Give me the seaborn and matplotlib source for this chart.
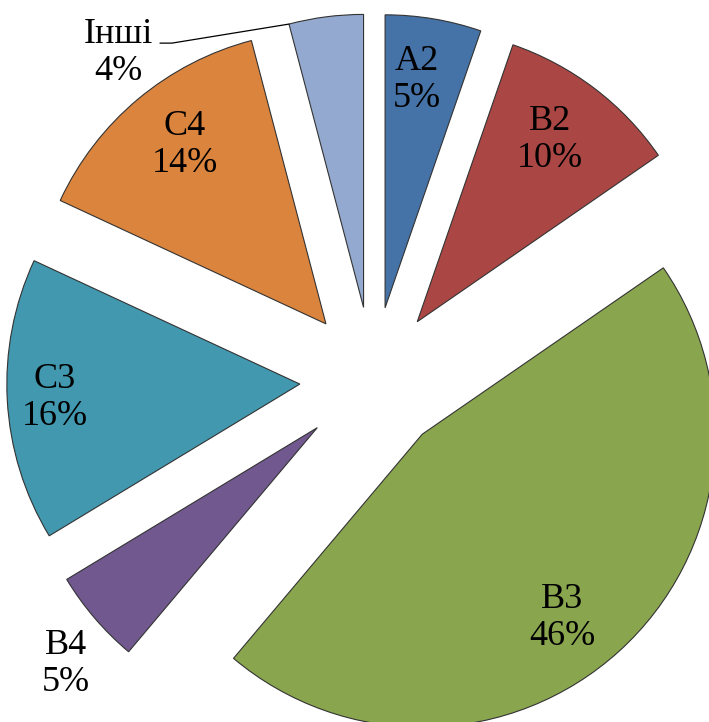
import numpy as np
import seaborn as sns
import matplotlib
matplotlib.use("Agg")
import matplotlib.pyplot as plt

# data (shares; labels show rounded values)
categories = ["A2", "B2", "B3", "B4", "C3", "C4", "Інші"]
shares = [5.3, 10.1, 45.8, 5.2, 15.6, 14.0, 4.1]
colors = ["#4572A7", "#AA4643", "#89A54E", "#71588F", "#4198AF", "#DB843D", "#93A9CF"]

# layout: label anchors in data coords (pie radius = 1)
label_pos = {
    "A2": (0.150, 1.024),
    "B2": (0.604, 0.819),
    "B3": (0.645, -0.812),
    "B4": (-1.048, -0.969),
    "C3": (-1.085, -0.061),
    "C4": (-0.642, 0.802),
    "Інші": (-0.870, 1.116),
}
leader_start = [(-0.727, 1.150), (-0.686, 1.150)]

sns.set_theme(style="white")
plt.rcParams["font.family"] = ["Liberation Serif", "DejaVu Serif"]

fig = plt.figure(figsize=(7.09, 7.22), dpi=100)
ax = fig.add_axes([0, 0, 1, 1])

wedges, _ = ax.pie(
    shares,
    colors=sns.color_palette(colors),
    startangle=90,
    counterclock=False,
    explode=[0.25] * len(shares),
    radius=1,
    wedgeprops=dict(edgecolor="#333333", linewidth=0.8),
)

for cat, val in zip(categories, shares):
    x, y = label_pos[cat]
    ax.text(x, y, f"{cat}\n{round(val)}%", ha="center", va="center",
            fontsize=26, color="black", linespacing=1.15)

# leader line for the small slice
w = wedges[categories.index("Інші")]
th = np.deg2rad(max(w.theta1, w.theta2))
corner = (w.center[0] + w.r * np.cos(th), w.center[1] + w.r * np.sin(th))
xs = [p[0] for p in leader_start] + [corner[0]]
ys = [p[1] for p in leader_start] + [corner[1]]
ax.plot(xs, ys, color="black", linewidth=0.9)

ax.set_aspect("equal")
ax.set_xlim(-1.273, 1.147)
ax.set_ylim(-1.167, 1.297)
ax.axis("off")

fig.savefig("out.png", dpi=100)
